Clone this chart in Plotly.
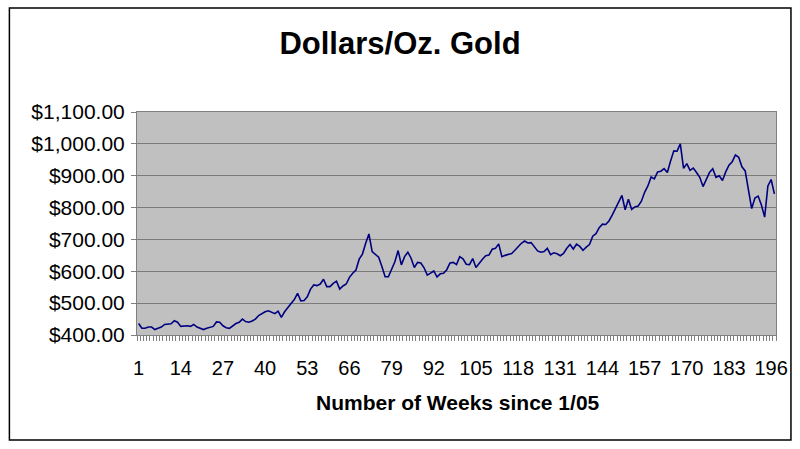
import plotly.graph_objects as go

weeks = list(range(1, 198))
price = [
    436, 421, 421, 425, 425, 417, 421, 425, 433, 435,
    435, 445, 440, 427, 429, 429, 427, 433, 425, 421,
    417, 421, 425, 427, 441, 440, 429, 423, 421, 428,
    436, 440, 450, 442, 440, 444, 450, 461, 467, 473,
    476, 471, 467, 475, 455, 473, 488, 499, 511, 531,
    507, 508, 520, 544, 557, 555, 560, 575, 552, 552,
    562, 569, 544, 554, 560, 581, 594, 604, 638, 654,
    688, 717, 662, 654, 644, 615, 583, 583, 609, 630,
    665, 620, 646, 660, 641, 612, 628, 626, 611, 588,
    594, 601, 582, 592, 594, 605, 626, 628, 621, 646,
    639, 622, 621, 640, 612, 626, 638, 649, 651, 669,
    672, 686, 646, 650, 653, 656, 666, 678, 688, 695,
    689, 690, 676, 664, 660, 662, 672, 652, 658, 655,
    649, 656, 672, 684, 670, 685, 678, 666, 676, 684,
    710, 718, 737, 748, 747, 758, 776, 796, 817, 838,
    793, 826, 794, 802, 805, 820, 848, 868, 896, 890,
    912, 914, 922, 910, 946, 978, 977, 1000, 923, 938,
    917, 924, 910, 895, 866, 887, 910, 922, 895, 900,
    885, 912, 933, 944, 965, 958, 928, 915, 855, 797,
    830, 836, 808, 770, 868, 888, 843,
]

x_tick_vals = [1, 14, 27, 40, 53, 66, 79, 92, 105, 118, 131, 144, 157, 170, 183, 196]
y_tick_vals = [400, 500, 600, 700, 800, 900, 1000, 1100]

fig = go.Figure()
fig.add_trace(go.Scatter(
    x=weeks, y=price, mode="lines",
    line=dict(color="#000080", width=1.6),
    hoverinfo="x+y", showlegend=False,
))

L, R, T, B = 137, 22, 112, 114
W, H = 800, 449
pw, ph = W - L - R, H - T - B

def px_x(p):
    return (p - L) / pw

def px_y(p):
    return (H - B - p) / ph

fig.update_layout(
    width=W, height=H,
    margin=dict(l=L, r=R, t=T, b=B, pad=0),
    paper_bgcolor="white",
    plot_bgcolor="#C0C0C0",
    font=dict(family="Liberation Sans, Arial, sans-serif", color="black"),
    title=dict(
        text="<b>Dollars/Oz. Gold</b>",
        x=0.5, xref="container", xanchor="center",
        y=1 - 43 / H, yref="container", yanchor="middle",
        font=dict(size=31, color="black"),
    ),
    xaxis=dict(
        range=[0.5, 197.5],
        tickmode="array", tickvals=x_tick_vals,
        ticktext=[str(v) for v in x_tick_vals],
        ticks="", showgrid=False, zeroline=False,
        showline=True, linecolor="#808080", linewidth=1, mirror=True,
        tickfont=dict(size=20),
        ticklabelstandoff=15,
        minor=dict(ticks="outside", tickmode="linear", tick0=0.5, dtick=1,
                   ticklen=5, tickcolor="#808080", tickwidth=1, showgrid=False),
    ),
    yaxis=dict(
        range=[400, 1100],
        tickmode="array", tickvals=y_tick_vals,
        tickformat="$,.2f",
        ticks="outside", ticklen=5, tickcolor="#808080",
        showgrid=True, gridcolor="#7a7a7a", gridwidth=1,
        zeroline=False,
        showline=True, linecolor="#808080", linewidth=1, mirror=True,
        tickfont=dict(size=21),
        ticklabelstandoff=2,
    ),
    annotations=[dict(
        text="<b>Number of Weeks since 1/05</b>",
        xref="paper", yref="paper",
        x=px_x(459), y=px_y(402),
        xanchor="center", yanchor="middle",
        showarrow=False, font=dict(size=21, color="black"),
    )],
    shapes=[dict(
        type="rect", xref="paper", yref="paper",
        x0=px_x(9), x1=px_x(793), y0=px_y(440), y1=px_y(8),
        line=dict(color="black", width=1.5), fillcolor="rgba(0,0,0,0)",
        layer="below",
    )],
)

fig.write_html("out.html")
